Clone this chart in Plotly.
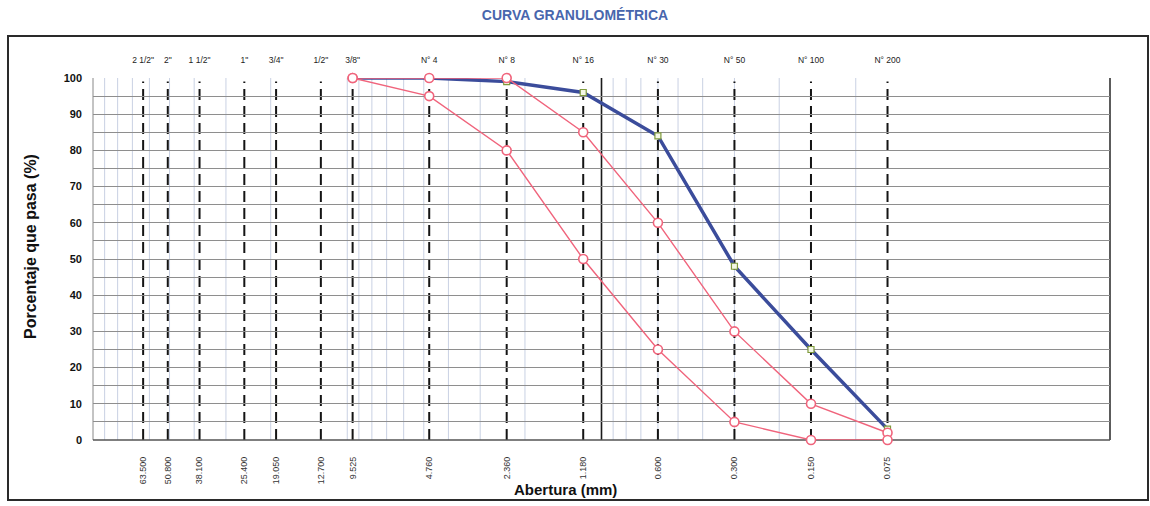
import plotly.graph_objects as go

# ---------------- data ----------------
sieve_names = ['2 1/2"', '2"', '1 1/2"', '1"', '3/4"', '1/2"', '3/8"',
               'N° 4', 'N° 8', 'N° 16', 'N° 30', 'N° 50', 'N° 100', 'N° 200']
sieve_mm = [63.5, 50.8, 38.1, 25.4, 19.05, 12.7, 9.525,
            4.76, 2.36, 1.18, 0.6, 0.3, 0.15, 0.075]
sieve_mm_text = ["63.500", "50.800", "38.100", "25.400", "19.050", "12.700", "9.525",
                 "4.760", "2.360", "1.180", "0.600", "0.300", "0.150", "0.075"]

curve_mm = [9.525, 4.76, 2.36, 1.18, 0.6, 0.3, 0.15, 0.075]
muestra = [100, 100, 99, 96, 84, 48, 25, 3]
lim_sup = [100, 100, 100, 85, 60, 30, 10, 2]
lim_inf = [100, 95, 80, 50, 25, 5, 0, 0]

y_ticks = list(range(0, 101, 10))

# ---------------- style ----------------
NARROW = "Liberation Sans Narrow, Arial Narrow, Liberation Sans, Arial, sans-serif"
SANS = "Liberation Sans, Arial, sans-serif"
RED = "#f0647c"
BLUE = "#3b4c9b"

fig = go.Figure()

fig.add_trace(go.Scatter(
    x=curve_mm, y=muestra, mode="lines+markers", name="Muestra",
    line=dict(color=BLUE, width=3.5),
    marker=dict(symbol="square", size=6, color="#f4f7e6",
                line=dict(color="#7f9a3c", width=1.2)),
    cliponaxis=False, showlegend=False))

for vals in (lim_sup, lim_inf):
    fig.add_trace(go.Scatter(
        x=curve_mm, y=vals, mode="lines+markers",
        line=dict(color=RED, width=1.4),
        marker=dict(symbol="circle", size=9, color="white",
                    line=dict(color=RED, width=1.6)),
        cliponaxis=False, showlegend=False))

# invisible trace to anchor the top axis
fig.add_trace(go.Scatter(x=sieve_mm, y=[None] * len(sieve_mm), xaxis="x2",
                         mode="lines", showlegend=False, hoverinfo="skip"))

shapes = []
# minor logarithmic vertical grid (0.1 .. 100)
for k in (-1, 0, 1):
    for m in range(1, 10):
        v = m * 10 ** k
        shapes.append(dict(type="line", xref="x", yref="paper", x0=v, x1=v, y0=0, y1=1,
                           line=dict(color="#c9d1e3", width=1), layer="below"))
# decade line at 1 mm
shapes.append(dict(type="line", xref="x", yref="paper", x0=1, x1=1, y0=0, y1=1,
                   line=dict(color="#1a1a1a", width=1.6), layer="between"))
# dashed sieve lines
for s in sieve_mm:
    shapes.append(dict(type="line", xref="x", yref="paper", x0=s, x1=s, y0=0, y1=0.99,
                       line=dict(color="#141414", width=2, dash="11px,6px"), layer="between"))
# plot right border and bottom line
shapes.append(dict(type="line", xref="paper", yref="paper", x0=1, x1=1, y0=0, y1=1,
                   line=dict(color="#333", width=1.6), layer="between"))
shapes.append(dict(type="line", xref="paper", yref="paper", x0=0, x1=0, y0=0, y1=1,
                   line=dict(color="#888", width=1), layer="between"))
shapes.append(dict(type="line", xref="paper", yref="paper", x0=0, x1=1, y0=0, y1=0,
                   line=dict(color="#555", width=1.4), layer="between"))
# outer frame
shapes.append(dict(type="rect", xref="paper", yref="paper",
                   x0=(8 - 93) / 1017, x1=(1148 - 93) / 1017,
                   y0=(440 - 500) / 362, y1=(440 - 36) / 362,
                   line=dict(color="#2a2a2a", width=2), fillcolor="rgba(0,0,0,0)",
                   layer="above"))

fig.update_layout(
    width=1150, height=506,
    margin=dict(l=93, r=40, t=78, b=66),
    paper_bgcolor="white", plot_bgcolor="white",
    title=dict(text="<b>CURVA GRANULOMÉTRICA</b>", x=0.5, xref="container", xanchor="center",
               y=1 - 15 / 506, yref="container", yanchor="middle",
               font=dict(family=NARROW, size=14, color="#4866ad")),
    xaxis=dict(type="log", range=[2, -2], showgrid=False, zeroline=False,
               tickmode="array", tickvals=sieve_mm, ticktext=sieve_mm_text,
               tickangle=-90, ticks="", ticklabelstandoff=14,
               tickfont=dict(family=NARROW, size=9, color="#333"),
               showline=False),
    xaxis2=dict(type="log", range=[2, -2], overlaying="x", side="top",
                showgrid=False, zeroline=False,
                tickmode="array", tickvals=sieve_mm, ticktext=sieve_names,
                ticks="", ticklabelstandoff=12,
                tickfont=dict(family=NARROW, size=8.5, color="#222"),
                showline=False),
    yaxis=dict(range=[0, 100], tickmode="array", tickvals=y_ticks,
               showgrid=True, gridcolor="#8e8e8e", gridwidth=1,
               minor=dict(dtick=5, showgrid=True, gridcolor="#8e8e8e", gridwidth=1),
               zeroline=False, ticks="", ticklabelstandoff=10,
               tickfont=dict(family=SANS, size=11, color="#111", weight="bold"),
               showline=False),
    shapes=shapes,
    annotations=[
        dict(text="<b>Porcentaje que pasa (%)</b>", xref="paper", yref="paper",
             x=(30 - 93) / 1017, y=(440 - 247) / 362, textangle=-90, showarrow=False,
             xanchor="center", yanchor="middle",
             font=dict(family=SANS, size=16, color="#111")),
        dict(text="<b>Abertura (mm)</b>", xref="paper", yref="paper",
             x=(565 - 93) / 1017, y=(440 - 489) / 362, showarrow=False,
             xanchor="center", yanchor="middle",
             font=dict(family=SANS, size=15, color="#111")),
    ],
)

fig.write_html("out.html")
